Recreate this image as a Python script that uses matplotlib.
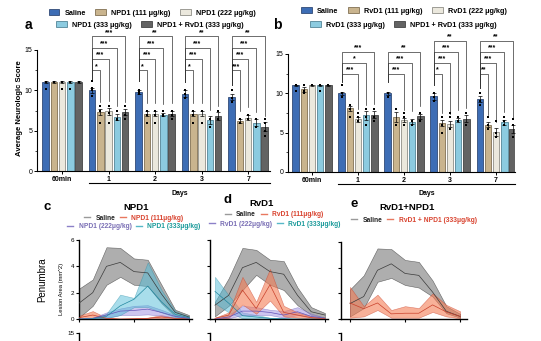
import matplotlib
matplotlib.use("Agg")
from matplotlib import pyplot as plt
from matplotlib.lines import Line2D
from matplotlib.patches import Patch
import matplotlib.transforms as mtransforms
import numpy as np

plt.rcParams['font.family'] = ['Liberation Sans', 'DejaVu Sans']

# ---- bar chart data (panels a and b) ----
groups = ["60min", "1", "2", "3", "7"]
a_labels = ["Saline", "NPD1 (111 μg/kg)", "NPD1 (222 μg/kg)", "NPD1 (333 μg/kg)", "NPD1 + RvD1 (333 μg/kg)"]
b_labels = ["Saline", "RvD1 (111 μg/kg)", "RvD1 (222 μg/kg)", "RvD1 (333 μg/kg)", "NPD1 + RvD1 (333 μg/kg)"]

a_means = [[11, 11, 11, 11, 11],
           [10.0, 7.3, 7.4, 6.7, 7.3],
           [9.8, 7.1, 7.1, 7.0, 7.1],
           [9.6, 7.1, 7.1, 6.3, 6.8],
           [9.2, 6.2, 6.6, 6.0, 5.5]]
a_sem = [[0.1, 0.1, 0.1, 0.1, 0.1],
         [0.3, 0.4, 0.4, 0.4, 0.4],
         [0.3, 0.3, 0.3, 0.2, 0.3],
         [0.4, 0.3, 0.3, 0.5, 0.5],
         [0.4, 0.3, 0.3, 0.4, 0.6]]
a_points = [[[11, 11, 10.2], [11, 11, 11], [11, 11, 10.2], [11, 11, 10.2], [11, 11, 11]],
            [[11.2, 10.3, 10.0, 9.3], [8, 8, 7.5, 6], [8, 8, 7.2, 6], [7.5, 6.3, 6.3, 6.5], [8, 8, 7, 6.5]],
            [[10, 10, 9.8, 9.5], [7.5, 7, 6], [7.5, 7, 6], [7.5, 7, 7, 6.8], [7.5, 7.5, 7, 6.5]],
            [[10, 10, 9.5, 9], [7.5, 7, 6], [7.5, 7.5, 6], [6.5, 6.5, 5.5], [7.5, 6.5, 6.5]],
            [[10, 10, 9, 8.5], [6.5, 6, 6], [7, 6.5, 6.5], [6.5, 5.5, 5.5], [6.5, 6, 5, 4.3]]]
a_sig = [[],
         [(1, '*'), (2, '***'), (3, '***'), (4, '***')],
         [(1, '*'), (2, '***'), (3, '***'), (4, '**')],
         [(1, '*'), (2, '***'), (3, '***'), (4, '**')],
         [(1, '***'), (2, '***'), (3, '***'), (4, '**')]]

b_means = [[11, 10.5, 11, 11, 11],
           [10.0, 8.1, 6.7, 7.2, 7.3],
           [10.0, 7.0, 6.6, 6.4, 7.1],
           [9.6, 6.2, 6.1, 6.6, 6.8],
           [9.3, 6.0, 5.1, 6.3, 5.5]]
b_sem = [[0.1, 0.3, 0.1, 0.1, 0.1],
         [0.2, 0.3, 0.3, 0.6, 0.4],
         [0.2, 0.6, 0.3, 0.3, 0.3],
         [0.4, 0.4, 0.4, 0.3, 0.4],
         [0.4, 0.3, 0.5, 0.3, 0.5]]
b_points = [[[11, 10.3], [11, 11, 10.3, 10], [11, 11], [11, 10.3], [11, 11]],
            [[11, 11, 10, 9.5], [8.5, 8, 7], [7.5, 7, 6.5], [8, 7, 6, 6], [8, 8, 7, 6.5]],
            [[10, 10, 9.5, 9.5], [8, 8, 6, 6], [7.5, 7, 6, 6], [6.5, 6.5, 6], [7.5, 7.5, 6.5]],
            [[10, 10, 9.5, 9], [7, 7, 6, 5], [7.5, 7, 5.5, 5.5], [7, 7, 6.5], [7.5, 7.5, 6]],
            [[10, 10, 9, 8.5], [7, 6, 5.5], [6.5, 5, 4.5, 4.5], [7, 6.5, 6], [6.8, 6, 4.5, 4.5]]]
b_sig = [[],
         [(2, '***'), (3, '*'), (4, '***')],
         [(2, '***'), (3, '***'), (4, '**')],
         [(1, '*'), (2, '***'), (3, '***'), (4, '**')],
         [(1, '**'), (2, '***'), (3, '***'), (4, '**')]]

bar_colors = ['#3d6db5', '#c9b48e', '#ebe8dd', '#8ccbe0', '#636363']
bar_edges = ['#1b3463', '#6e5c3c', '#7a7a72', '#3c7285', '#2e2e2e']
sig_levels = [12.5, 13.9, 15.3, 16.7]

# ---- lesion area time courses (panels c, d, e) ----
timepoints = [0, 1, 2, 3, 4, 5, 6, 7, 8]

c_saline = dict(mean=[1.2, 2.0, 4.0, 4.3, 3.6, 3.5, 1.9, 0.5, 0.15],
                lo=[0.1, 1.0, 2.6, 3.2, 2.6, 2.5, 1.2, 0.2, 0.05],
                hi=[2.3, 3.0, 5.45, 5.4, 4.6, 4.5, 2.6, 0.7, 0.3])
c_111 = dict(mean=[0.1, 0.3, 0.05, 0.0, 0.02, 0.05, 0.15, 0.05, 0.0],
             lo=[0.0, 0.1, 0.0, 0.0, 0.0, 0.0, 0.03, 0.0, 0.0],
             hi=[0.25, 0.6, 0.1, 0.02, 0.05, 0.1, 0.3, 0.1, 0.02])
c_222 = dict(mean=[0.0, 0.05, 0.3, 0.6, 0.65, 0.75, 0.5, 0.2, 0.05],
             lo=[0.0, 0.0, 0.1, 0.3, 0.3, 0.35, 0.25, 0.08, 0.02],
             hi=[0.02, 0.1, 0.5, 0.8, 1.0, 1.05, 0.7, 0.3, 0.1])
c_333 = dict(mean=[0.0, 0.02, 0.2, 1.0, 1.5, 2.5, 1.3, 0.35, 0.1],
             lo=[0.0, 0.0, 0.05, 0.3, 0.9, 0.9, 0.5, 0.15, 0.05],
             hi=[0.0, 0.05, 0.4, 1.85, 1.6, 4.3, 2.2, 0.6, 0.2])

d_saline = dict(mean=[1.05, 1.8, 3.9, 4.3, 3.6, 3.4, 1.8, 0.55, 0.3],
                lo=[0.2, 1.0, 2.2, 3.35, 2.6, 2.2, 1.05, 0.3, 0.1],
                hi=[1.3, 3.1, 5.4, 5.25, 4.5, 4.4, 2.4, 0.9, 0.45])
d_111 = dict(mean=[0.05, 0.3, 2.2, 0.8, 2.6, 0.5, 0.3, 0.1, 0.02],
             lo=[0.0, 0.1, 1.1, 0.4, 1.4, 0.2, 0.1, 0.03, 0.0],
             hi=[0.1, 0.5, 3.2, 1.3, 3.8, 1.0, 0.5, 0.2, 0.05])
d_222 = dict(mean=[0.0, 0.15, 0.6, 0.6, 0.5, 0.3, 0.55, 0.2, 0.05],
             lo=[0.0, 0.05, 0.3, 0.3, 0.3, 0.1, 0.3, 0.1, 0.0],
             hi=[0.02, 0.3, 1.0, 0.9, 0.7, 0.6, 0.9, 0.4, 0.1])
d_333 = dict(mean=[2.1, 1.2, 0.25, 0.15, 0.05, 0.02, 0.0, 0.0, 0.0],
             lo=[1.2, 0.5, 0.05, 0.0, 0.0, 0.0, 0.0, 0.0, 0.0],
             hi=[3.2, 1.8, 0.5, 0.3, 0.1, 0.05, 0.02, 0.0, 0.0])

e_saline = dict(mean=[1.2, 1.75, 3.8, 4.3, 3.55, 3.4, 2.1, 0.6, 0.2],
                lo=[0.2, 0.85, 2.9, 3.2, 2.65, 2.45, 1.75, 0.45, 0.1],
                hi=[2.3, 3.4, 5.5, 5.45, 4.6, 4.45, 3.0, 1.0, 0.4])
e_combo = dict(mean=[1.25, 0.8, 1.25, 0.4, 0.45, 0.45, 1.1, 0.55, 0.2],
               lo=[0.1, 0.2, 0.7, 0.1, 0.1, 0.1, 0.55, 0.2, 0.05],
               hi=[2.5, 1.0, 1.9, 0.7, 1.0, 0.85, 2.0, 1.1, 0.6])

# fill, line, legend dash, legend text, fill alpha
gray = ('#8f8f8f', '#3a3a3a', '#9a9a9a', '#222222', 0.72)
red = ('#f47d55', '#c9402a', '#e8785f', '#d9432f', 0.6)
purple = ('#a698e2', '#6353b8', '#8c80c8', '#7a6fb5', 0.55)
teal = ('#52bcd8', '#22879f', '#56b8c8', '#1a9a9a', 0.5)

W, H = 541, 341
fig = plt.figure(figsize=(W / 100, H / 100), dpi=100)


def px_box(l, t, r, b):
    return [l / W, 1 - b / H, (r - l) / W, (b - t) / H]


def draw_bars(ax, means, sems, points, sigs, xlim):
    means = np.array(means)
    sems = np.array(sems)
    x = np.arange(len(groups))
    off = (np.arange(5) - 2) * 0.178
    for j in range(5):
        ax.bar(x + off[j], means[:, j], 0.14, color=bar_colors[j], edgecolor=bar_edges[j],
               linewidth=0.5, yerr=sems[:, j], zorder=2,
               error_kw=dict(elinewidth=0.5, capsize=1.2, capthick=0.5, ecolor='black'))
        for g in range(len(groups)):
            p = points[g][j]
            ax.scatter(np.full(len(p), x[g] + off[j]), p, s=2.2, marker='s',
                       color='black', linewidths=0, zorder=3)
    for g, sig in enumerate(sigs):
        for k, (tgt, lab) in enumerate(sig):
            lev = sig_levels[k]
            x0 = x[g] + off[0]
            x1 = x[g] + off[tgt]
            ax.plot([x0, x0, x1, x1], [means[g, 0] + 1.4, lev, lev, means[g, tgt] + 1.3],
                    color='#333333', lw=0.5, clip_on=False)
            ax.text((x0 + x1) / 2, lev + 0.05, lab, ha='center', va='bottom', fontsize=5,
                    fontweight='bold', clip_on=False)
    ax.set_xlim(*xlim)
    ax.set_ylim(0, 15)
    ax.set_yticks([0, 5, 10, 15])
    ax.set_yticks([2.5, 7.5, 12.5], minor=True)
    ax.set_xticks(x, groups)
    for s in ['top', 'right']:
        ax.spines[s].set_visible(False)
    for s in ['left', 'bottom']:
        ax.spines[s].set_linewidth(0.8)
    ax.tick_params(length=2, width=0.7, pad=1.5, labelsize=5)
    ax.tick_params(which='minor', length=1.2, width=0.5)
    for t in ax.get_xticklabels():
        t.set_fontweight('bold')
    trans = mtransforms.blended_transform_factory(ax.transData, ax.transAxes)
    x_start = 1 + off[0] - 0.07
    ax.plot([x_start, xlim[1]], [-0.1, -0.1], transform=trans, color='black', lw=0.8, clip_on=False)
    ax.text((x_start + xlim[1]) / 2, -0.155, 'Days', transform=trans, ha='center', va='top',
            fontsize=5, fontweight='bold')


ax_a = fig.add_axes(px_box(37, 50, 270, 171))
draw_bars(ax_a, a_means, a_sem, a_points, a_sig, (-0.54, 4.47))
ax_b = fig.add_axes(px_box(288, 54, 515, 172))
draw_bars(ax_b, b_means, b_sem, b_points, b_sig, (-0.52, 4.41))

fig.text(20 / W, 1 - 108 / H, 'Average Neurologic Score', rotation=90, ha='center', va='center',
         fontsize=5.6, fontweight='bold')


def bar_legend(labels, xc, y1, y2):
    hs = [Patch(facecolor=bar_colors[j], edgecolor=bar_edges[j], linewidth=0.5, label=labels[j])
          for j in range(5)]
    kw = dict(loc='center', frameon=False, prop={'size': 5.2, 'weight': 'bold'}, handlelength=1.5,
              handleheight=0.8, handletextpad=0.7, columnspacing=1.3, borderpad=0, borderaxespad=0)
    fig.legend(handles=hs[:3], ncol=3, bbox_to_anchor=(xc[0] / W, 1 - y1 / H), **kw)
    fig.legend(handles=hs[3:], ncol=2, bbox_to_anchor=(xc[1] / W, 1 - y2 / H), **kw)


bar_legend(a_labels, (152, 150), 13, 25)
bar_legend(b_labels, (404, 403), 11, 25)

fig.text(28 / W, 1 - 25 / H, 'a', fontsize=10, fontweight='bold', ha='center', va='center')
fig.text(277 / W, 1 - 25 / H, 'b', fontsize=10, fontweight='bold', ha='center', va='center')


def draw_ts(ax, series, xlim, ylabels):
    for s, col in series:
        ax.fill_between(timepoints, s['lo'], s['hi'], facecolor=col[0], alpha=col[4],
                        edgecolor=col[1], linewidth=0.4, zorder=2)
        ax.plot(timepoints, s['mean'], color=col[1], lw=0.5, zorder=3)
    ax.set_xlim(*xlim)
    ax.set_ylim(0, 6)
    ax.set_xticks([0, 4, 8], ['', '', ''])
    ax.set_yticks([0, 2, 4, 6])
    if not ylabels:
        ax.set_yticklabels([])
    for s in ['top', 'right']:
        ax.spines[s].set_visible(False)
    for s in ['left', 'bottom']:
        ax.spines[s].set_linewidth(1.0)
    ax.tick_params(length=2.5, width=0.8, pad=1, labelsize=4.5)


def ts_legend(ax_entries, xc, ys):
    for (entries, y) in zip(ax_entries, ys):
        hs = [Line2D([0], [0], color=c[2], lw=1.0, label=lab) for lab, c in entries]
        leg = fig.legend(handles=hs, ncol=len(hs), loc='center', frameon=False,
                         bbox_to_anchor=(xc / W, 1 - y / H), prop={'size': 4.8, 'weight': 'bold'},
                         handlelength=0.9, handletextpad=0.8, columnspacing=0.7,
                         borderpad=0, borderaxespad=0)
        for t, (lab, c) in zip(leg.get_texts(), entries):
            t.set_color(c[3])


ax_c = fig.add_axes(px_box(79, 240, 192, 319))
draw_ts(ax_c, [(c_saline, gray), (c_111, red), (c_222, purple), (c_333, teal)], (0, 8.22), True)
ax_d = fig.add_axes(px_box(210, 240, 328, 319))
draw_ts(ax_d, [(d_saline, gray), (d_333, teal), (d_222, purple), (d_111, red)], (-0.36, 8.22), False)
ax_e = fig.add_axes(px_box(341, 242, 467, 319))
draw_ts(ax_e, [(e_saline, gray), (e_combo, red)], (-0.65, 8.5), False)

ts_legend([[('Saline', gray), ('NPD1 (111μg/kg)', red)],
           [('NPD1 (222μg/kg)', purple), ('NPD1 (333μg/kg)', teal)]], 134, (218, 227))
ts_legend([[('Saline', gray), ('RvD1 (111μg/kg)', red)]], 274, (215,))
ts_legend([[('RvD1 (222μg/kg)', purple), ('RvD1 (333μg/kg)', teal)]], 275, (224,))
ts_legend([[('Saline', gray), ('RvD1 + NPD1 (333μg/kg)', red)]], 414, (220,))

fig.text(136 / W, 1 - 208 / H, 'NPD1', fontsize=6.8, fontweight='bold', ha='center', va='center')
fig.text(262 / W, 1 - 204 / H, 'RvD1', fontsize=6.8, fontweight='bold', ha='center', va='center')
fig.text(407 / W, 1 - 208 / H, 'RvD1+NPD1', fontsize=6.8, fontweight='bold', ha='center', va='center')
fig.text(47 / W, 1 - 207 / H, 'c', fontsize=9.5, fontweight='bold', ha='center', va='center')
fig.text(228 / W, 1 - 200 / H, 'd', fontsize=9.5, fontweight='bold', ha='center', va='center')
fig.text(354 / W, 1 - 204 / H, 'e', fontsize=9.5, fontweight='bold', ha='center', va='center')
fig.text(42 / W, 1 - 280 / H, 'Penumbra', rotation=90, fontsize=7, ha='center', va='center')
fig.text(62 / W, 1 - 289 / H, 'Lesion Area (mm^2)', rotation=90, fontsize=4.2, ha='center', va='center')

# next row of panels, cut off by the figure edge
for box, lab in [((79, 333, 192, 420), True), ((210, 333, 328, 420), False), ((341, 333, 467, 420), False)]:
    ax2 = fig.add_axes(px_box(*box))
    ax2.set_ylim(0, 15)
    ax2.set_yticks([15], ['15'] if lab else [''])
    ax2.set_xticks([])
    for s in ['top', 'right', 'bottom']:
        ax2.spines[s].set_visible(False)
    ax2.spines['left'].set_linewidth(1.0)
    ax2.tick_params(length=2.5, width=0.8, pad=1, labelsize=4.5)
    ax2.patch.set_alpha(0)

fig.savefig('out.png', dpi=100)
